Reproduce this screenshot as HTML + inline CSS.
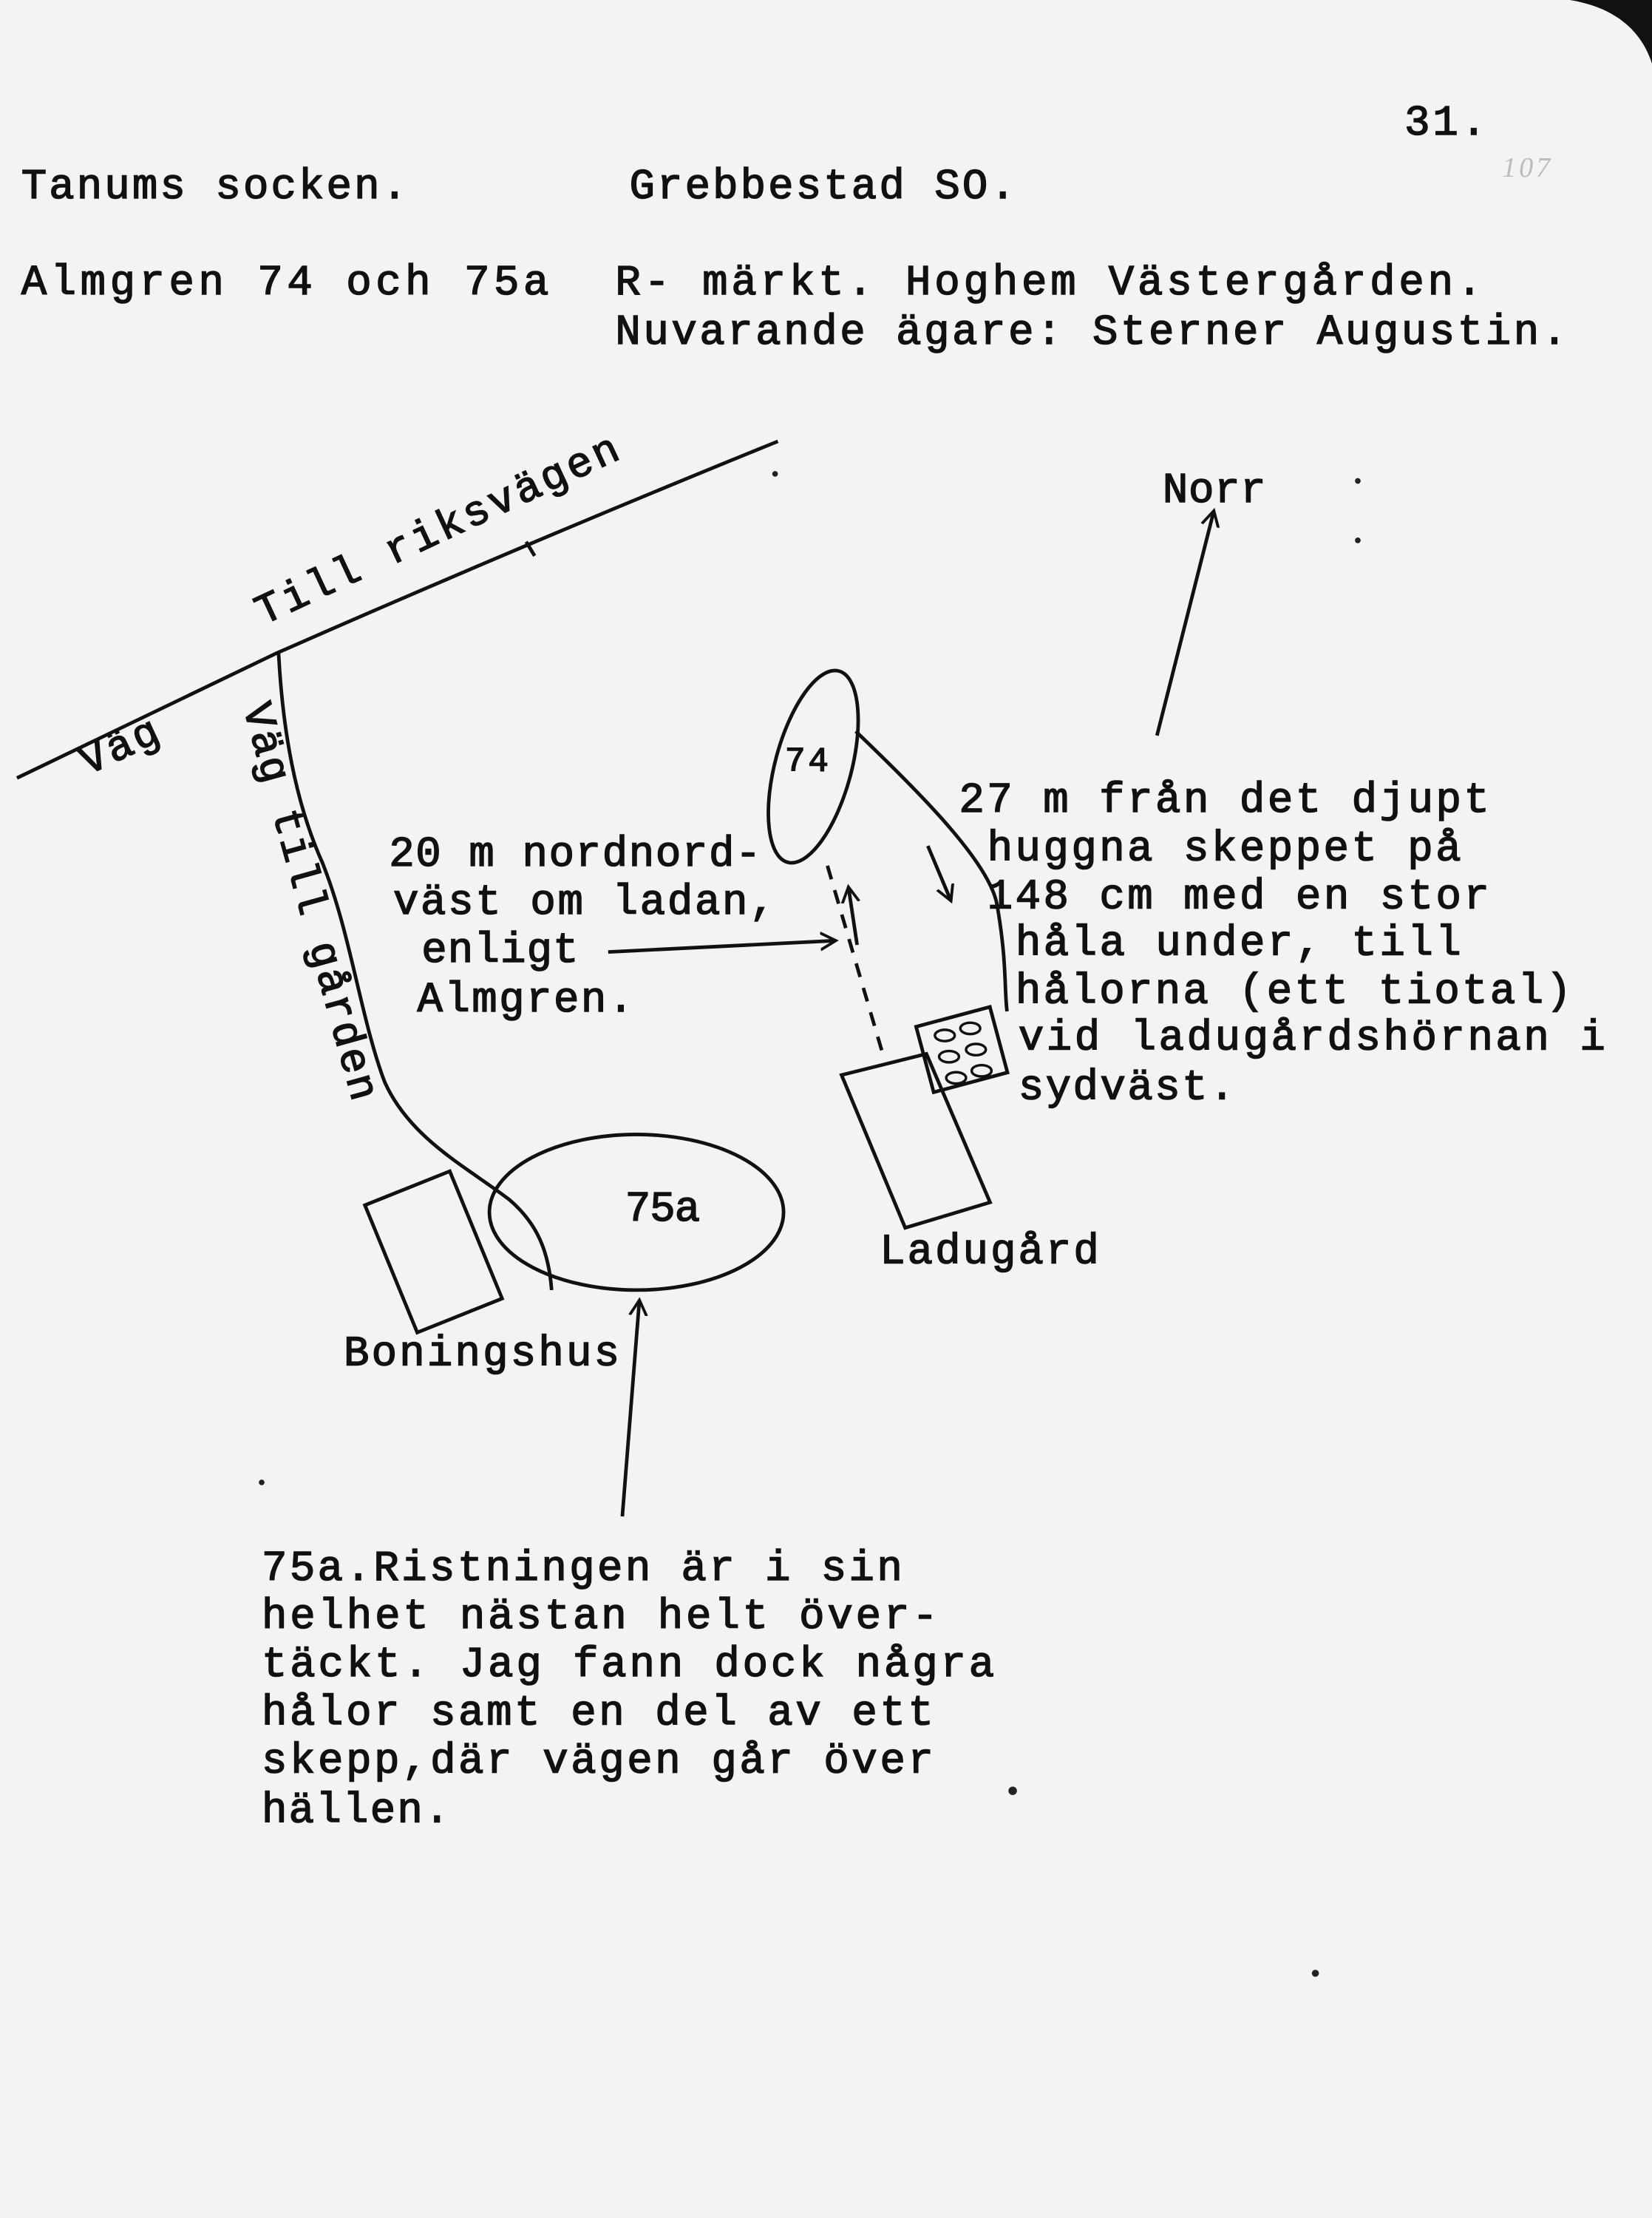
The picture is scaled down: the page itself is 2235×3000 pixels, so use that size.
<!DOCTYPE html>
<html><head><meta charset="utf-8"><style>
html,body{margin:0;padding:0;background:#f3f3f2;}
svg{display:block;}
text{font-family:"Liberation Mono",monospace;font-size:30px;fill:#111;letter-spacing:2px;stroke:#111;stroke-width:0.8px;}
</style></head><body>
<svg width="2235" height="3000" viewBox="0 0 1168 1568" preserveAspectRatio="none" xmlns="http://www.w3.org/2000/svg">
<defs>
<marker id="ah" markerWidth="14" markerHeight="14" refX="10" refY="7" orient="auto" markerUnits="userSpaceOnUse">
<path d="M0,1 L11,7 L0,13" fill="none" stroke="#111" stroke-width="2"/>
</marker>
</defs>
<rect width="1168" height="1568" fill="#f3f3f2"/>
<path d="M1110,0 L1168,0 L1168,45 C1160,20 1140,5 1110,0 Z" fill="#111"/>

<text x="993" y="95">31.</text>
<text x="1062" y="125" style="font-size:20px;fill:#bbb;stroke:none;font-family:'Liberation Serif',serif;font-style:italic">107</text>

<text x="15" y="140" textLength="275">Tanums socken.</text>
<text x="445" y="140" textLength="275">Grebbestad SO.</text>
<text x="15" y="208" textLength="375">Almgren  74 och 75a</text>
<text x="435" y="208" textLength="615">R- märkt.  Hoghem Västergården.</text>
<text x="435" y="243" textLength="675">Nuvarande ägare: Sterner Augustin.</text>

<g fill="none" stroke="#111" stroke-width="2.5">
<path d="M12,550 L195,462 Q370,385 550,312"/>
<path d="M197,462 C200,520 210,570 228,610 C248,660 255,720 272,765 C290,805 330,825 360,848 C380,865 388,885 390,912"/>
<line x1="818" y1="520" x2="858" y2="362" marker-end="url(#ah)"/>
<ellipse cx="575" cy="542" rx="27" ry="70" transform="rotate(15 575 542)"/>
<path d="M605,517 C650,560 700,610 705,640 C712,680 710,700 712,715"/>
<line x1="656" y1="598" x2="672" y2="636" marker-end="url(#ah)"/>
<line x1="585" y1="612" x2="625" y2="748" stroke-dasharray="10,8"/>
<line x1="430" y1="673" x2="590" y2="665" marker-end="url(#ah)"/>
<line x1="606" y1="668" x2="600" y2="628" marker-end="url(#ah)"/>
<polygon points="595,760 655,745 700,850 640,868"/>
<rect x="653" y="718" width="54" height="48" transform="rotate(-15 680 742)"/>
<ellipse cx="450" cy="857" rx="104" ry="55"/>
<polygon points="258,852 318,828 355,918 295,942"/>
<line x1="440" y1="1072" x2="452" y2="920" marker-end="url(#ah)"/>
<path d="M372,383 l6,10" />
</g>
<g fill="none" stroke="#111" stroke-width="1.8">
<ellipse cx="668" cy="732" rx="7" ry="4"/><ellipse cx="686" cy="727" rx="7" ry="4"/>
<ellipse cx="671" cy="747" rx="7" ry="4"/><ellipse cx="690" cy="742" rx="7" ry="4"/>
<ellipse cx="676" cy="762" rx="7" ry="4"/><ellipse cx="694" cy="757" rx="7" ry="4"/>
</g>

<text x="822" y="355" textLength="75">Norr</text>
<text x="555" y="545" style="font-size:24px" >74</text>
<text x="442" y="863" textLength="55">75a</text>
<text transform="translate(62,548) rotate(-25)">Väg</text>
<text transform="translate(186,442) rotate(-25)" textLength="282">Till riksvägen</text>
<text transform="translate(172,500) rotate(74.5)" textLength="292">Väg till gården</text>

<text x="275" y="612" textLength="265">20 m nordnord-</text>
<text x="278" y="646" textLength="272">väst om ladan,</text>
<text x="298" y="680" textLength="113">enligt</text>
<text x="295" y="715" textLength="155">Almgren.</text>

<text x="678" y="574" textLength="377">27 m från det djupt</text>
<text x="698" y="608" textLength="337">huggna skeppet på</text>
<text x="698" y="642" textLength="357">148 cm med en stor</text>
<text x="718" y="675" textLength="317">håla under, till</text>
<text x="718" y="709" textLength="395">hålorna (ett tiotal)</text>
<text x="720" y="742" textLength="417">vid ladugårdshörnan i</text>
<text x="720" y="777" textLength="155">sydväst.</text>

<text x="622" y="893" textLength="157">Ladugård</text>
<text x="243" y="965" textLength="197">Boningshus</text>

<text x="185" y="1117" textLength="455">75a.Ristningen är i sin</text>
<text x="185" y="1151" textLength="480">helhet nästan helt över-</text>
<text x="185" y="1185" textLength="520">täckt. Jag fann dock några</text>
<text x="185" y="1219" textLength="477">hålor samt en del av ett</text>
<text x="185" y="1253" textLength="477">skepp,där vägen går över</text>
<text x="185" y="1288" textLength="135">hällen.</text>

<g fill="#222">
<circle cx="716" cy="1266" r="3"/><circle cx="930" cy="1395" r="2.5"/><circle cx="548" cy="335" r="2"/>
<circle cx="960" cy="340" r="2"/><circle cx="960" cy="382" r="2"/><circle cx="185" cy="1048" r="2"/>
</g>
</svg>
</body></html>
